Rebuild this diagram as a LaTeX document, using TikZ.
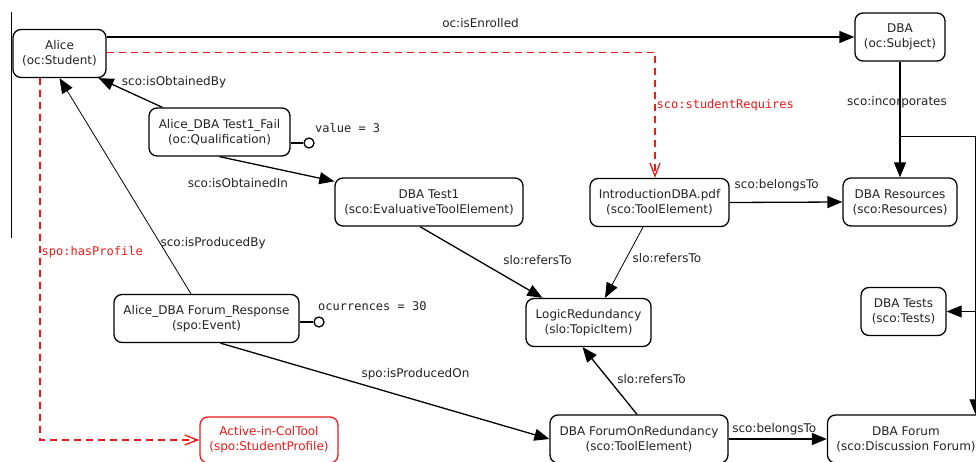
\documentclass[tikz,border=0pt]{standalone}
\usepackage{fontspec}
\setmainfont{DejaVu Sans}
\setmonofont{DejaVu Sans Mono}
\usetikzlibrary{arrows.meta}
\definecolor{linkred}{RGB}{240,24,24}
\definecolor{inkgray}{RGB}{35,35,35}
\tikzset{
  reqlink/.style={draw=linkred,line width=1.3pt,dash pattern=on 7pt off 5pt,
    -{Straight Barb[length=13pt,width=10pt]}},
  monolabel/.style={font=\fontsize{12}{14}\ttfamily,inner sep=1pt},
  valdot/.style={circle,draw=black,line width=1.3pt,minimum size=10pt,inner sep=0pt}
}

\begin{document}
\begin{tikzpicture}[x=1pt,y=-1pt,auto,>={Triangle[length=15pt,width=12pt]},
  font=\fontsize{12}{15}\selectfont,text=inkgray]
   \useasboundingbox[fill=white] (0,0) rectangle (976,462);
   \draw (11.5,12) -- (11.5,238);
   \begin{scope}[every node/.style={draw=black,line width=1.3pt,rounded corners=8pt,align=center,minimum height=48pt,inner sep=2pt}]
    \node[minimum width=93pt] (alice) at (59.5,53.5) {Alice\\(oc:Student)};
    \node[minimum width=90pt] (dba) at (900,37) {DBA\\(oc:Subject)};
    \node[minimum width=141pt] (fail) at (219.5,132) {Alice\_DBA Test1\_Fail\\(oc:Qualification)};
    \node[minimum width=188pt] (test) at (429,202) {DBA Test1\\(sco:EvaluativeToolElement)};
    \node[minimum width=139pt] (intro) at (659.5,202.5) {IntroductionDBA.pdf\\(sco:ToolElement)};
    \node[minimum width=114pt] (resources) at (900,202) {DBA Resources\\(sco:Resources)};
    \node[minimum width=125pt] (logic) at (588.5,322.5) {LogicRedundancy\\(slo:TopicItem)};
    \node[minimum width=85pt] (tests) at (903.5,311.5) {DBA Tests\\(sco:Tests)};
    \node[minimum width=185pt] (resp) at (206.5,318.5) {Alice\_DBA Forum\_Response\\(spo:Event)};
    \node[minimum width=138pt,minimum height=46pt,draw=linkred,text=linkred] (active) at (269,440) {Active-in-ColTool\\(spo:StudentProfile)};
    \node[minimum width=178pt] (forumred) at (639,439) {DBA ForumOnRedundancy\\(sco:ToolElement)};
    \node[minimum width=157pt] (forum) at (906,439) {DBA Forum\\(sco:Discussion Forum)};
   \end{scope}
   % value markers
   \node[valdot] (failval) at (309,143) {};
   \node[monolabel,anchor=west] (failtxt) at (314,128) {value = 3};
   \node[valdot] (respval) at (319,322) {};
   \node[monolabel,anchor=west] (resptxt) at (317,306) {ocurrences = 30};
   \draw[line width=1.3pt] ([yshift=-11pt]fail.east) -- (failval);
   \draw[line width=1.3pt] ([yshift=-3.5pt]resp.east) -- (respval);
   \begin{scope}[every edge/.style={draw=black,line width=1.3pt,->},every node/.style={inner sep=1pt}]
    \draw (alice.east |- dba.west) edge node[midway,above=8pt]{oc:isEnrolled} (dba.west);
    \draw ([xshift=14pt]fail.north west) edge node[pos=0.66,anchor=west,yshift=6pt]{sco:isObtainedBy} ([xshift=-8pt]alice.south east);
    \draw (fail.south) edge node[pos=0.61,anchor=east,yshift=-11pt]{sco:isObtainedIn} ([yshift=-4pt]test.north west);
    \draw ([xshift=-15.5pt]resp.north) edge[line width=0.8pt] node[pos=0.234,anchor=west,inner sep=0pt]{sco:isProducedBy} (alice.south);
    \draw ([xshift=-9pt]test.south) edge node[pos=0.667,anchor=west,yshift=14pt]{slo:refersTo} ([xshift=17pt]logic.north west);
    \draw ([xshift=-16.5pt]intro.south) edge[line width=0.8pt] node[pos=0.44,anchor=west,xshift=5pt]{slo:refersTo} ([xshift=16.5pt]logic.north);
    \draw (intro.east) edge node[pos=0.03,anchor=west,yshift=17pt]{sco:belongsTo} (resources.west);
    \draw (dba.south) edge node[pos=0.35,anchor=center,xshift=-3pt]{sco:incorporates} (resources.north);
    \draw ([xshift=14pt]resp.south) edge node[pos=0.424,anchor=west,yshift=10pt]{spo:isProducedOn} (forumred.west);
    \draw ([xshift=-2pt]forumred.north) edge node[pos=0.52,anchor=west,xshift=7pt]{slo:refersTo} ([xshift=-6pt]logic.south);
    \draw (forumred.east) edge node[pos=0.02,anchor=west,yshift=10pt]{sco:belongsTo} (forum.west);
   \end{scope}
   % links leaving the frame on the right
   \coordinate (incsplit) at (900,136);
   \coordinate (railtop) at (975.5,136);
   \coordinate (railmid) at (975.5,311.5);
   \draw[line width=0.9pt] (incsplit) -- (railtop) -- (railmid);
   \draw[line width=0.9pt,->] (railmid) -- (tests.east);
   \draw[line width=0.9pt,->] (railmid) -- (railmid |- forum.north);
   % red links
   \coordinate (reqbend) at (655,52.5);
   \coordinate (profbend) at (40,440);
   \draw[reqlink] (alice.east |- reqbend) -- (reqbend) -- node[pos=0.42,anchor=west,monolabel,text=linkred]{sco:studentRequires} (reqbend |- intro.north);
   \draw[reqlink] (alice.south -| profbend) -- node[pos=0.48,anchor=west,monolabel,text=linkred]{spo:hasProfile} (profbend) -- (active.west);
\end{tikzpicture}
\end{document}
